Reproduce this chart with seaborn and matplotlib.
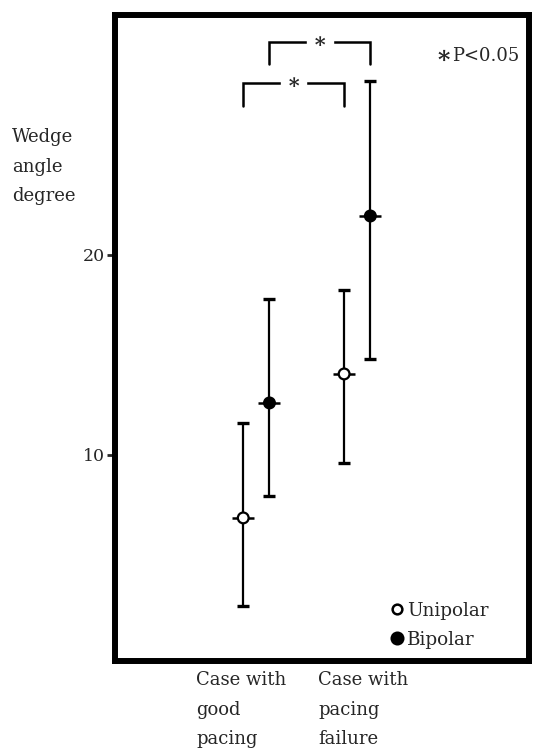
import matplotlib
matplotlib.use("Agg")
import matplotlib.pyplot as plt
from matplotlib.lines import Line2D
import pandas as pd
import seaborn as sns

# values (wedge angle, degrees)
groups = ["Case with\ngood\npacing", "Case with\npacing\nfailure"]
leads = ["Unipolar", "Bipolar"]
means_uni = [6.85, 14.05]
lower_uni = [2.45, 9.6]
upper_uni = [11.6, 18.25]
means_bi = [12.6, 21.95]
lower_bi = [7.95, 14.8]
upper_bi = [17.8, 28.7]

rows = []
for i, g in enumerate(groups):
    rows.append(dict(group=i, lead="Unipolar", mean=means_uni[i], lo=lower_uni[i], hi=upper_uni[i]))
    rows.append(dict(group=i, lead="Bipolar", mean=means_bi[i], lo=lower_bi[i], hi=upper_bi[i]))
df = pd.DataFrame(rows)
offset = {"Unipolar": -0.13, "Bipolar": 0.13}
df["x"] = df["group"] + df["lead"].map(offset)

sns.set_style("white")
plt.rcParams["font.family"] = ["DejaVu Serif"]

W, H = 533, 751
fig = plt.figure(figsize=(W / 100, H / 100), dpi=100)
ax = fig.add_axes([0.216, 0.12, 0.776, 0.86])

# error bars
for _, r in df.iterrows():
    ax.errorbar(r["x"], r["mean"], yerr=[[r["mean"] - r["lo"]], [r["hi"] - r["mean"]]],
                fmt="none", ecolor="black", elinewidth=1.6, capsize=4.5, capthick=2.4, zorder=2)

# short horizontal tick through each mean
ax.scatter(df["x"], df["mean"], marker="_", s=260, linewidths=1.8, color="black", zorder=3)

sns.scatterplot(data=df, x="x", y="mean", hue="lead", palette={"Unipolar": "white", "Bipolar": "black"},
                edgecolor="black", linewidth=1.6, s=60, legend=False, ax=ax, zorder=4)

# significance brackets
def bracket(x1, x2, y, drop, ax):
    ax.plot([x1, x1, x2, x2], [y - drop, y, y, y - drop], color="black", lw=1.8, zorder=2,
            solid_joinstyle="miter")
    ax.text((x1 + x2) / 2, y, "∗", ha="center", va="center", fontsize=15,
            fontweight="bold", backgroundcolor="white", zorder=3)

bracket(df["x"][0], df["x"][2], 28.6, 1.15, ax)
bracket(df["x"][1], df["x"][3], 30.65, 1.1, ax)

fig.text(444 / W, 1 - 56 / H, "∗", fontsize=17, fontweight="bold", ha="center", va="center")
fig.text(452 / W, 1 - 56 / H, "P<0.05", fontsize=13, ha="left", va="center")

ax.set_xlim(-1.40, 2.70)
ax.set_ylim(-0.3, 32)
ax.set_yticks([10, 20])
ax.set_yticklabels(["10", "20"], fontsize=12.5)
ax.set_xticks([])
ax.set_xlabel("")
ax.set_ylabel("")
ax.tick_params(axis="y", direction="out", length=6, width=2, pad=1, left=True)
for s in ax.spines.values():
    s.set_visible(True)
    s.set_linewidth(4.3)
    s.set_color("black")

handles = [Line2D([], [], marker="o", ls="none", mfc="white", mec="black", mew=1.8, ms=7),
           Line2D([], [], marker="o", ls="none", mfc="black", mec="black", mew=1.6, ms=8.5)]
ax.legend(handles, leads, loc="upper left", bbox_to_anchor=(376 / W, 1 - 589 / H),
          bbox_transform=fig.transFigure, frameon=False, fontsize=13.2,
          handletextpad=0.1, handlelength=0.9, labelspacing=0.6, borderpad=0.2)

fig.text(12 / W, 1 - 128 / H, "Wedge\nangle\ndegree", ha="left", va="top",
         fontsize=13, linespacing=1.83)
for xpix, lab in zip([196, 318], groups):
    fig.text(xpix / W, 1 - 671 / H, lab, ha="left", va="top", fontsize=13, linespacing=1.83)

fig.savefig("out.png", dpi=100, facecolor="white")
